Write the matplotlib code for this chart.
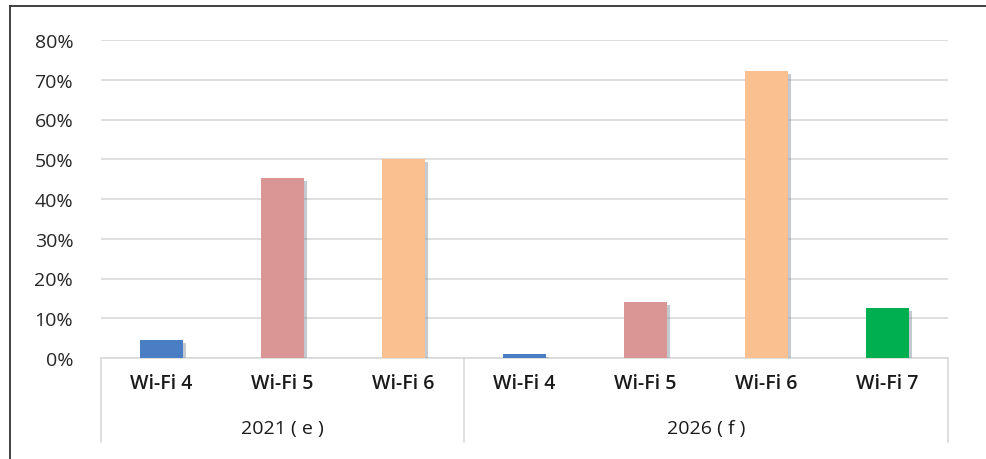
import matplotlib
matplotlib.use("Agg")
import matplotlib.pyplot as plt
import matplotlib.patheffects as pe
from matplotlib.lines import Line2D

plt.rcParams['font.family'] = ['Open Sans', 'DejaVu Sans']

groups = ["2021 ( e )", "2026 ( f )"]
categories = [["Wi-Fi 4", "Wi-Fi 5", "Wi-Fi 6"],
              ["Wi-Fi 4", "Wi-Fi 5", "Wi-Fi 6", "Wi-Fi 7"]]
values = [[4.5, 45.3, 50.0],
          [1.0, 14.1, 72.2, 12.6]]
colors = {"Wi-Fi 4": "#4A7EC4", "Wi-Fi 5": "#D99694",
          "Wi-Fi 6": "#FAC090", "Wi-Fi 7": "#00B050"}
yticks = [0, 10, 20, 30, 40, 50, 60, 70, 80]

fig = plt.figure(figsize=(9.87, 4.6), dpi=100)
W, H = 987, 460
left, right, bottom, top = 101, 948, 359, 41
ax = fig.add_axes([left / W, 1 - bottom / H, (right - left) / W, (bottom - top) / H])

labels = [c for g in categories for c in g]
vals = [v for g in values for v in g]
xs = list(range(len(labels)))
shadow = [pe.SimplePatchShadow(offset=(2.5, -2), shadow_rgbFace='#7f8a99', alpha=0.45), pe.Normal()]
bars = ax.bar(xs, vals, width=0.35, color=[colors[l] for l in labels], zorder=3)
for b in bars:
    b.set_path_effects(shadow)

ax.set_xlim(-0.5, len(labels) - 0.5)
ax.set_ylim(0, 80)
ax.set_yticks(yticks)
ax.set_yticklabels([f"{t}%" for t in yticks], fontsize=14, color='#262626')
ax.yaxis.grid(True, color='#d9d9d9', linewidth=1.2, zorder=0)
ax.set_axisbelow(True)
for s in ['top', 'right', 'left']:
    ax.spines[s].set_visible(False)
ax.spines['bottom'].set_color('#d9d9d9')
ax.spines['bottom'].set_linewidth(1.2)
ax.tick_params(axis='y', length=0, pad=20)
ax.tick_params(axis='x', length=0)
ax.set_xticks([])

trans = ax.get_xaxis_transform()
# category labels
for x, l in zip(xs, labels):
    ax.text(x, -(384 - bottom) / (bottom - top), l, transform=trans, ha='center', va='center',
            fontsize=14, fontweight='semibold', color='#1a1a1a')
# group labels and separators
start = 0
bounds = [-0.5]
for g, cats in zip(groups, categories):
    n = len(cats)
    center = start + (n - 1) / 2
    ax.text(center, -(429 - bottom) / (bottom - top), g,
            transform=trans, ha='center', va='center',
            fontsize=14, fontweight='medium', color='#1a1a1a')
    start += n
    bounds.append(start - 0.5)
ybot = -(443 - bottom) / (bottom - top)
for bx in bounds:
    ax.add_line(Line2D([bx, bx], [0, ybot], transform=trans, color='#d9d9d9',
                       linewidth=1.2, clip_on=False))

# figure frame (left and top)
fig.add_artist(Line2D([10 / W, 10 / W], [0, 1 - 7 / H], transform=fig.transFigure, color='#333333', linewidth=1.3))
fig.add_artist(Line2D([10 / W, 1], [1 - 7 / H, 1 - 7 / H], transform=fig.transFigure, color='#333333', linewidth=1.3))

fig.savefig("out.png", dpi=100)
